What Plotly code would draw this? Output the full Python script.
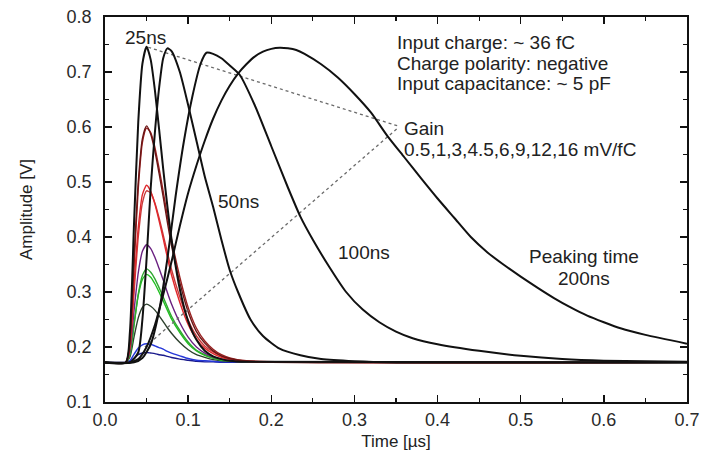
import plotly.graph_objects as go

# ---- data ----
time_25 = [0, 0.025, 0.03, 0.035, 0.04, 0.045, 0.05, 0.055, 0.06, 0.065, 0.07, 0.075,
           0.08, 0.09, 0.1, 0.11, 0.12, 0.13, 0.14, 0.15, 0.17, 0.7]

gain_navy = [0.172, 0.172, 0.174, 0.180, 0.186, 0.189, 0.190, 0.189, 0.188, 0.186, 0.185, 0.183,
             0.181, 0.178, 0.176, 0.174, 0.173, 0.173, 0.172, 0.172, 0.172, 0.172]
gain_blue = [0.172, 0.172, 0.175, 0.187, 0.198, 0.204, 0.206, 0.205, 0.202, 0.199, 0.196, 0.192,
             0.189, 0.184, 0.179, 0.176, 0.175, 0.174, 0.173, 0.173, 0.172, 0.172]
gain_darkgreen = [0.172, 0.172, 0.182, 0.219, 0.253, 0.272, 0.278, 0.274, 0.267, 0.257, 0.246, 0.235,
                  0.225, 0.208, 0.195, 0.186, 0.181, 0.177, 0.175, 0.174, 0.173, 0.172]
gain_green = [0.172, 0.172, 0.188, 0.243, 0.294, 0.323, 0.332, 0.327, 0.315, 0.300, 0.284, 0.267,
              0.251, 0.226, 0.206, 0.193, 0.185, 0.180, 0.176, 0.175, 0.173, 0.172]
gain_green_b = [0.172, 0.172, 0.186, 0.240, 0.296, 0.330, 0.342, 0.336, 0.324, 0.308, 0.291, 0.273,
                0.256, 0.230, 0.209, 0.194, 0.186, 0.180, 0.177, 0.175, 0.173, 0.172]
gain_purple = [0.172, 0.172, 0.193, 0.267, 0.335, 0.374, 0.386, 0.379, 0.363, 0.343, 0.322, 0.299,
               0.278, 0.244, 0.218, 0.200, 0.189, 0.182, 0.178, 0.175, 0.173, 0.172]
gain_red = [0.172, 0.172, 0.203, 0.316, 0.417, 0.477, 0.494, 0.483, 0.460, 0.430, 0.397, 0.363,
            0.331, 0.281, 0.241, 0.214, 0.198, 0.188, 0.181, 0.177, 0.174, 0.172]
gain_red_b = [0.172, 0.172, 0.198, 0.300, 0.400, 0.462, 0.484, 0.480, 0.462, 0.435, 0.404, 0.372,
              0.341, 0.291, 0.249, 0.220, 0.202, 0.191, 0.183, 0.178, 0.174, 0.172]
gain_darkred = [0.172, 0.172, 0.214, 0.364, 0.500, 0.579, 0.602, 0.587, 0.556, 0.516, 0.473, 0.427,
                0.385, 0.317, 0.264, 0.228, 0.207, 0.193, 0.184, 0.179, 0.174, 0.172]
gain_darkred_b = [0.172, 0.172, 0.208, 0.350, 0.488, 0.572, 0.598, 0.590, 0.563, 0.525, 0.483, 0.438,
                  0.396, 0.327, 0.272, 0.234, 0.211, 0.196, 0.186, 0.180, 0.175, 0.172]
shaper_25 = [0.172, 0.172, 0.228, 0.428, 0.609, 0.715, 0.746, 0.722, 0.667, 0.597, 0.524, 0.456,
             0.396, 0.305, 0.247, 0.213, 0.193, 0.183, 0.178, 0.175, 0.173, 0.172]

time_50 = [0, 0.03, 0.04, 0.045, 0.05, 0.055, 0.06, 0.065, 0.07, 0.075, 0.08, 0.09, 0.10, 0.11,
           0.12, 0.13, 0.14, 0.15, 0.16, 0.175, 0.19, 0.21, 0.235, 0.26, 0.3, 0.35, 0.7]
shaper_50 = [0.172, 0.172, 0.19, 0.25, 0.36, 0.49, 0.59, 0.67, 0.725, 0.743, 0.738, 0.70, 0.64, 0.575,
             0.51, 0.455, 0.395, 0.34, 0.30, 0.25, 0.22, 0.197, 0.185, 0.178, 0.174, 0.172, 0.172]

time_100 = [0, 0.035, 0.045, 0.055, 0.065, 0.075, 0.085, 0.095, 0.105, 0.115, 0.122, 0.13, 0.14,
            0.15, 0.162, 0.18, 0.20, 0.22, 0.235, 0.25, 0.27, 0.29, 0.31, 0.33, 0.35, 0.37, 0.40,
            0.45, 0.5, 0.55, 0.6, 0.7]
shaper_100 = [0.172, 0.172, 0.18, 0.205, 0.265, 0.36, 0.475, 0.575, 0.655, 0.715, 0.735, 0.733, 0.725,
              0.712, 0.695, 0.64, 0.565, 0.49, 0.437, 0.395, 0.345, 0.30, 0.268, 0.245, 0.228, 0.216,
              0.205, 0.193, 0.184, 0.178, 0.175, 0.173]

time_200 = [0, 0.03, 0.04, 0.05, 0.06, 0.07, 0.08, 0.09, 0.10, 0.11, 0.12, 0.13, 0.14, 0.15, 0.16,
            0.17, 0.18, 0.19, 0.2, 0.21, 0.22, 0.23, 0.24, 0.26, 0.28, 0.30, 0.32, 0.34, 0.36, 0.38,
            0.40, 0.42, 0.44, 0.46, 0.48, 0.50, 0.52, 0.54, 0.56, 0.58, 0.60, 0.62, 0.65, 0.70]
shaper_200 = [0.172, 0.172, 0.178, 0.2, 0.24, 0.295, 0.355, 0.42, 0.48, 0.53, 0.575, 0.615, 0.648,
              0.675, 0.697, 0.714, 0.728, 0.737, 0.742, 0.744, 0.743, 0.74, 0.733, 0.714, 0.69, 0.66,
              0.626, 0.583, 0.545, 0.507, 0.47, 0.435, 0.40, 0.372, 0.349, 0.328, 0.308, 0.289, 0.272,
              0.257, 0.245, 0.234, 0.222, 0.206]

gain_lines_t = [[0.052, 0.352], [0.048, 0.352]]
gain_lines_v = [[0.745, 0.602], [0.200, 0.598]]

x_ticks = [0.0, 0.1, 0.2, 0.3, 0.4, 0.5, 0.6, 0.7]
x_ticklabels = ["0.0", "0.1", "0.2", "0.3", "0.4", "0.5", "0.6", "0.7"]
y_ticks = [0.1, 0.2, 0.3, 0.4, 0.5, 0.6, 0.7, 0.8]
y_ticklabels = ["0.1", "0.2", "0.3", "0.4", "0.5", "0.6", "0.7", "0.8"]

FONT = "Liberation Sans, Arial, sans-serif"
fig = go.Figure()

gain_series = [
    (gain_navy, "#1a1a8c"),
    (gain_blue, "#2436d8"),
    (gain_darkgreen, "#2d402d"),
    (gain_green, "#20c020"),
    (gain_green_b, "#30a830"),
    (gain_purple, "#6a2080"),
    (gain_red_b, "#c83a3a"),
    (gain_red, "#e0282c"),
    (gain_darkred_b, "#9a2020"),
    (gain_darkred, "#6a1515"),
]
for vals, col in gain_series:
    fig.add_trace(go.Scatter(x=time_25, y=vals, mode="lines",
                             line=dict(color=col, width=1.4, shape="spline", smoothing=0.6),
                             showlegend=False, hoverinfo="skip"))

for tt, vv in zip(gain_lines_t, gain_lines_v):
    fig.add_trace(go.Scatter(x=tt, y=vv, mode="lines",
                             line=dict(color="#6a6a6a", width=1.3, dash="dot"),
                             showlegend=False, hoverinfo="skip"))

for tt, vv in [(time_25, shaper_25), (time_50, shaper_50), (time_100, shaper_100), (time_200, shaper_200)]:
    fig.add_trace(go.Scatter(x=tt, y=vv, mode="lines",
                             line=dict(color="#111111", width=2, shape="spline", smoothing=0.6),
                             showlegend=False, hoverinfo="skip"))

txt = dict(family=FONT, size=19, color="#222222")
annots = [
    dict(x=0.049, y=0.762, text="25ns", xanchor="center"),
    dict(x=0.161, y=0.464, text="50ns", xanchor="center"),
    dict(x=0.3115, y=0.371, text="100ns", xanchor="center"),
    dict(x=0.576, y=0.365, text="Peaking time", xanchor="center"),
    dict(x=0.576, y=0.324, text="200ns", xanchor="center"),
    dict(x=0.349, y=0.753, text="Input charge: ~ 36 fC", xanchor="left"),
    dict(x=0.349, y=0.716, text="Charge polarity: negative", xanchor="left"),
    dict(x=0.349, y=0.679, text="Input capacitance: ~ 5 pF", xanchor="left"),
    dict(x=0.357, y=0.598, text="Gain", xanchor="left"),
    dict(x=0.357, y=0.560, text="0.5,1,3,4.5,6,9,12,16 mV/fC", xanchor="left"),
]
for a in annots:
    fig.add_annotation(x=a["x"], y=a["y"], text=a["text"], xanchor=a["xanchor"], yanchor="middle",
                       showarrow=False, font=txt, xref="x", yref="y")

axis_common = dict(showgrid=False, zeroline=False, showline=True, linecolor="#111111", linewidth=1.8,
                   mirror="ticks", ticks="inside", ticklen=7, tickwidth=1.3, tickcolor="#111111",
                   automargin=False,
                   tickfont=dict(family=FONT, size=18, color="#2a2a2a"))
fig.update_xaxes(range=[0, 0.7], tickvals=x_ticks, ticktext=x_ticklabels, ticklabelstandoff=1,
                 minor=dict(ticks="inside", ticklen=4, tickwidth=1.2, tickcolor="#111111", dtick=0.05),
                 title=dict(text="Time [µs]", font=dict(family=FONT, size=17, color="#222222"), standoff=6),
                 **axis_common)
fig.update_yaxes(range=[0.1, 0.8], tickvals=y_ticks, ticktext=y_ticklabels, ticklabelstandoff=8,
                 minor=dict(ticks="inside", ticklen=4, tickwidth=1.2, tickcolor="#111111", dtick=0.05,
                            tick0=0.1),
                 title=dict(text="Amplitude [V]", font=dict(family=FONT, size=17, color="#222222"), standoff=30),
                 **axis_common)

fig.update_layout(width=702, height=460, margin=dict(l=105, r=15, t=17, b=58),
                  plot_bgcolor="white", paper_bgcolor="white", showlegend=False)

fig.write_html("out.html", config={"displayModeBar": False, "staticPlot": True},
               post_script="document.body.style.margin='0';document.body.style.overflow='hidden';")
